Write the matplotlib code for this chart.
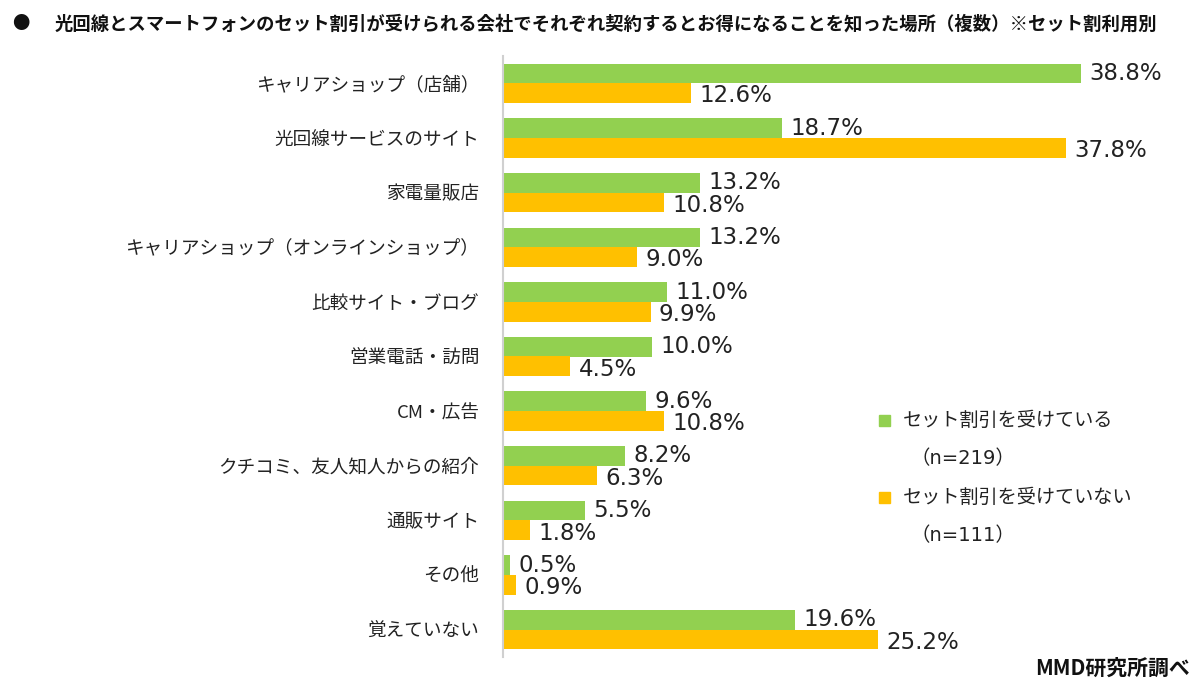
import matplotlib
matplotlib.use("Agg")
import matplotlib.pyplot as plt
import numpy as np

plt.rcParams['font.family'] = ['Noto Sans CJK JP', 'DejaVu Sans']

categories = ["キャリアショップ（店舗）", "光回線サービスのサイト", "家電量販店",
              "キャリアショップ（オンラインショップ）", "比較サイト・ブログ", "営業電話・訪問",
              "CM・広告", "クチコミ、友人知人からの紹介", "通販サイト", "その他", "覚えていない"]
used = [38.8, 18.7, 13.2, 13.2, 11.0, 10.0, 9.6, 8.2, 5.5, 0.5, 19.6]
not_used = [12.6, 37.8, 10.8, 9.0, 9.9, 4.5, 10.8, 6.3, 1.8, 0.9, 25.2]
series_names = ["セット割引を受けている", "セット割引を受けていない"]
series_n = ["（n=219）", "（n=111）"]
title_bullet = "●"
title = "光回線とスマートフォンのセット割引が受けられる会社でそれぞれ契約するとお得になることを知った場所（複数）※セット割利用別"
source = "MMD研究所調べ"

GREEN = "#92D050"
ORANGE = "#FFC000"

fig = plt.figure(figsize=(12, 6.95), dpi=100)
W, H = 1200, 695
left_px, top_px, bottom_px = 503, 56, 657
xmax = 45
right_px = 503 + xmax * 14.9
ax = fig.add_axes([left_px / W, 1 - bottom_px / H, (right_px - left_px) / W, (bottom_px - top_px) / H])

y = np.arange(len(categories))
bh = 0.36
ax.barh(y - bh / 2, used, height=bh, color=GREEN, edgecolor='none')
ax.barh(y + bh / 2, not_used, height=bh, color=ORANGE, edgecolor='none')

for yi, v in zip(y, used):
    ax.annotate(f"{v:.1f}%", (v, yi - bh / 2), xytext=(6, 0), textcoords='offset points',
                va='center', ha='left', fontsize=16.5, family='DejaVu Sans', color='#222222')
for yi, v in zip(y, not_used):
    ax.annotate(f"{v:.1f}%", (v, yi + bh / 2), xytext=(6, -2), textcoords='offset points',
                va='center', ha='left', fontsize=16.5, family='DejaVu Sans', color='#222222')

ax.set_ylim(len(categories) - 0.5, -0.5)
ax.set_xlim(0, xmax)
ax.set_yticks(y)
ax.set_yticklabels(categories, fontsize=13.4, color='#222222')
ax.tick_params(axis='y', length=0, pad=17)
ax.set_xticks([])
for s in ['top', 'right', 'bottom']:
    ax.spines[s].set_visible(False)
ax.spines['left'].set_color('#d0d0d0')
ax.spines['left'].set_linewidth(1.5)

fig.text(12 / W, 1 - 24 / H, title_bullet, fontsize=12.5, va='center', ha='left', color='#111111')
fig.text(55 / W, 1 - 24 / H, title, fontsize=13.2, fontweight='bold', va='center', ha='left', color='#111111')
fig.text(1190 / W, 1 - 668 / H, source, fontsize=15, fontweight='bold', va='center', ha='right', color='#111111')

# legend
leg_x = 884 / W
for i, (name, n, col) in enumerate(zip(series_names, series_n, [GREEN, ORANGE])):
    yy = 1 - (420 + i * 77) / H
    fig.patches.append(plt.Rectangle((leg_x - 5 / W, yy - 6 / H), 11 / W, 11 / H, transform=fig.transFigure,
                                     color=col, figure=fig))
    fig.text(903 / W, yy, name, fontsize=13.8, va='center', ha='left', color='#222222')
    fig.text(910 / W, yy - 39 / H, n, fontsize=14, va='center', ha='left', color='#222222',
             family=['DejaVu Sans', 'Noto Sans CJK JP'])

fig.savefig("out.png", dpi=100, facecolor='white')
